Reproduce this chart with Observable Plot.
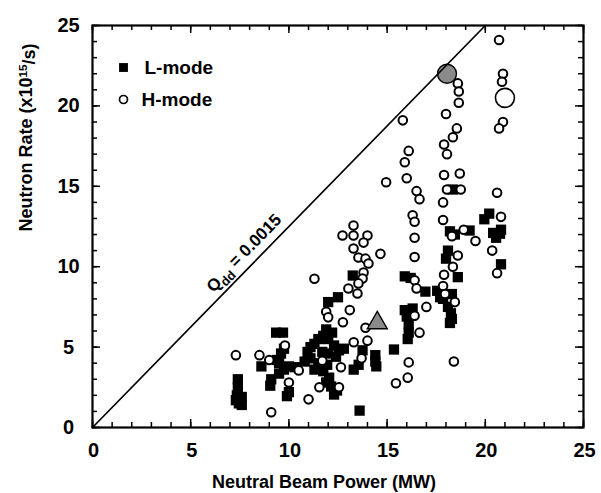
<!DOCTYPE html>
<html><head><meta charset="utf-8">
<script src="https://cdn.jsdelivr.net/npm/d3@7"></script>
<script src="https://cdn.jsdelivr.net/npm/@observablehq/plot@0.6"></script>
<style>html,body{margin:0;padding:0;background:#fff;overflow:hidden}</style>
</head><body><div id="chart"></div>
<script>
// ---- tick labels / axes ----
const xTicks = [0, 5, 10, 15, 20, 25];
const yTicks = [0, 5, 10, 15, 20, 25];
const minorTicks = [0,1,2,3,4,5,6,7,8,9,10,11,12,13,14,15,16,17,18,19,20,21,22,23,24,25];
const xTitle = "Neutral Beam Power (MW)";
const yTitle = "Neutron Rate (x1015/s)";
const legendL = ["L-mode"];
const legendH = ["H-mode"];

// ---- Qdd = 0.0015 reference line ----
const lineX = [0, 20];
const lineY = [0, 25];
const qddLabel = "Qdd = 0.0015";
const qddAtX = [8.2];

// ---- data: [beam power MW, neutron rate 1e15/s] ----
const lMode = [
  [7.4,3.0],[7.4,2.5],[7.35,2.0],[7.6,1.9],[7.45,1.5],[7.6,1.4],[7.3,1.7],
  [9.35,5.9],[9.7,5.9],[9.6,4.6],[9.75,4.9],[9.4,4.2],[8.6,3.8],[9.1,3.0],[9.05,2.6],
  [9.5,3.35],[9.75,3.6],[10.0,3.8],[10.3,3.75],[9.9,1.95],[10.0,2.2],[9.5,4.0],
  [10.95,4.7],[11.1,5.0],[11.3,5.2],[11.5,5.5],[11.75,5.7],[12.0,5.5],[12.2,5.9],[11.9,6.1],
  [12.3,5.1],[12.55,4.8],[12.8,4.9],[11.1,4.3],[11.5,4.0],[11.3,3.6],[11.95,3.9],[11.75,3.5],
  [12.05,3.1],[11.9,2.8],[12.15,2.55],[12.3,2.05],[12.45,2.3],[12.4,4.4],[12.0,4.6],[11.7,4.7],[10.8,4.1],
  [12.0,7.8],[12.5,8.1],[13.25,9.45],
  [13.75,4.8],[13.3,3.6],[13.55,3.9],[14.4,4.5],[14.45,3.8],[14.4,4.1],[15.35,4.85],[13.6,1.05],
  [15.9,9.4],[16.2,9.3],[16.95,8.45],[17.55,8.5],[17.7,8.1],[15.9,7.3],[16.3,7.4],[16.0,6.9],
  [16.1,6.4],[16.1,5.9],[16.05,5.5],
  [18.35,14.8],[18.2,12.2],[18.45,12.0],[19.2,12.25],[18.1,11.0],[18.0,10.5],[18.6,9.35],
  [17.85,8.0],[18.3,8.3],[18.1,7.5],[18.25,7.1],[18.3,6.75],[18.2,6.5],
  [19.95,12.95],[20.2,13.3],[20.4,12.1],[20.75,12.05],[20.55,11.8],[20.8,12.3],[20.8,10.15]
];
const hMode = [
  [7.3,4.5],[8.5,4.5],[9.0,4.2],[9.8,5.1],[10.0,2.8],[10.5,3.55],[9.1,0.95],[11.0,1.75],
  [11.7,4.15],[11.55,2.5],[12.55,2.5],[12.65,3.75],
  [11.3,9.25],[11.9,7.2],[12.0,6.85],[12.75,6.55],[13.1,7.3],[13.9,6.2],[13.3,5.3],[14.0,5.4],[13.7,4.3],
  [12.73,11.94],[13.29,12.56],[13.29,11.94],[14.0,11.94],[13.8,11.5],[14.66,10.8],[13.29,11.13],
  [13.54,10.57],[13.9,10.5],[14.05,10.2],[13.8,9.64],[13.75,9.27],[13.54,8.96],[13.03,8.64],[13.49,8.33],
  [14.95,15.25],[15.8,19.1],[16.1,17.2],[15.9,16.5],[16.0,15.5],[16.5,14.7],[16.65,14.2],[16.3,13.2],
  [16.4,12.8],[16.4,11.8],[16.4,10.6],[16.4,9.15],[16.5,8.65],[17.0,7.5],[16.4,6.95],[16.65,5.9],
  [15.45,2.75],[16.05,3.1],[16.1,4.05],
  [18.6,21.4],[18.65,20.9],[18.65,20.2],[18.0,19.5],[18.55,18.6],[18.35,18.05],[17.9,17.6],[18.05,17.0],
  [17.9,15.7],[18.7,15.8],[18.05,14.8],[18.75,14.8],[17.85,14.0],[17.85,12.9],[18.9,12.3],[19.5,11.6],
  [18.3,11.9],[18.6,10.7],[18.35,10.0],[17.9,9.5],[17.85,8.8],[17.95,8.3],[18.45,7.8],[18.4,4.1],
  [20.7,24.1],[20.9,22.0],[20.85,21.5],[20.9,19.0],[20.7,18.6],[20.6,14.6],[20.8,13.1],[20.35,11.0],[20.6,9.6]
];
const grayCircle = [[18.05, 22.0]];
const bigCircle = [[21.0, 20.5]];
const grayTriangle = [[14.5, 6.5]];

// ---- layout ----
const W = 601, H = 493, ML = 92, MR = 18, MT = 25, MB = 66;
const PW = W - ML - MR, PH = H - MT - MB;
const font = "'Liberation Sans', Arial, Helvetica, sans-serif";
const slopeAngle = -Math.atan2((lineY[1] / 25) * PH, (lineX[1] / 25) * PW) * 180 / Math.PI;
const qdd = qddAtX.map(x => ({x, y: x * lineY[1] / lineX[1]}));

const svg = Plot.plot({
  width: W, height: H,
  marginLeft: ML, marginRight: MR, marginTop: MT, marginBottom: MB,
  style: {fontFamily: font, background: "white", color: "black"},
  x: {domain: [0, 25], axis: null},
  y: {domain: [0, 25], axis: null},
  marks: [
    Plot.dot(lMode, {x: d => d[0], y: d => d[1], symbol: "square", r: 5.8, fill: "black"}),
    Plot.dot(hMode, {x: d => d[0], y: d => d[1], r: 4.3, fill: "white", stroke: "black", strokeWidth: 2}),
    Plot.dot(bigCircle, {x: d => d[0], y: d => d[1], r: 9.5, fill: "white", stroke: "black", strokeWidth: 1.6}),
    Plot.dot(grayCircle, {x: d => d[0], y: d => d[1], r: 9.5, fill: "#8a8a8a", stroke: "black", strokeWidth: 1.4}),
    Plot.dot(grayTriangle, {x: d => d[0], y: d => d[1], symbol: "triangle", r: 7.4, fill: "#8a8a8a", stroke: "black", strokeWidth: 1.4}),
    Plot.line(lineX.map((x, i) => [x, lineY[i]]), {x: d => d[0], y: d => d[1], stroke: "black", strokeWidth: 1.7}),
    Plot.text(qdd, {x: "x", y: "y", text: () => qddLabel, rotate: slopeAngle, dx: -9, dy: -9,
      fontSize: 17, fontWeight: "bold", textAnchor: "middle", lineAnchor: "middle", ariaLabel: "qdd"}),
    // inward ticks on all four sides
    Plot.tickX(minorTicks, {x: d => d, insetTop: PH - 5, strokeWidth: 1.5}),
    Plot.tickX(xTicks, {x: d => d, insetTop: PH - 8, strokeWidth: 1.5}),
    Plot.tickX(minorTicks, {x: d => d, insetBottom: PH - 5, strokeWidth: 1.5}),
    Plot.tickX(xTicks, {x: d => d, insetBottom: PH - 8, strokeWidth: 1.5}),
    Plot.tickY(minorTicks, {y: d => d, insetRight: PW - 5, strokeWidth: 1.5}),
    Plot.tickY(yTicks, {y: d => d, insetRight: PW - 8, strokeWidth: 1.5}),
    Plot.tickY(minorTicks, {y: d => d, insetLeft: PW - 5, strokeWidth: 1.5}),
    Plot.tickY(yTicks, {y: d => d, insetLeft: PW - 8, strokeWidth: 1.5}),
    Plot.frame({stroke: "black", strokeWidth: 2.2}),
    // tick labels
    Plot.text(xTicks, {x: d => d, text: d => String(d), frameAnchor: "bottom", dy: 23, dx: 1,
      fontSize: 20, fontWeight: "bold", lineAnchor: "middle", ariaLabel: "xlabels"}),
    Plot.text(yTicks, {y: d => d, text: d => String(d), frameAnchor: "left", dx: -24,
      fontSize: 20, fontWeight: "bold", textAnchor: "middle", lineAnchor: "middle", ariaLabel: "ylabels"}),
    // axis titles
    Plot.text([xTitle], {text: d => d, frameAnchor: "bottom", dx: -14, dy: 55,
      fontSize: 18, fontWeight: "bold", lineAnchor: "middle"}),
    Plot.text([yTitle], {text: d => d, frameAnchor: "left", dx: -66, dy: 5, rotate: -90,
      fontSize: 18, fontWeight: "bold", lineAnchor: "middle", ariaLabel: "ytitle"}),
    // legend
    Plot.dot(legendL, {frameAnchor: "top-left", dx: 31, dy: 42, symbol: "square", r: 5, fill: "black"}),
    Plot.text(legendL, {text: d => d, frameAnchor: "top-left", dx: 52, dy: 42, textAnchor: "start",
      lineAnchor: "middle", fontSize: 19, fontWeight: "bold"}),
    Plot.dot(legendH, {frameAnchor: "top-left", dx: 31, dy: 74, r: 4, fill: "white", stroke: "black", strokeWidth: 1.7}),
    Plot.text(legendH, {text: d => d, frameAnchor: "top-left", dx: 49, dy: 74, textAnchor: "start",
      lineAnchor: "middle", fontSize: 19, fontWeight: "bold"})
  ]
});

// subscript / superscript formatting
d3.select(svg).selectAll("text").each(function () {
  const t = d3.select(this);
  const s = this.textContent;
  if (s === qddLabel) {
    t.text(null);
    t.append("tspan").text("Q");
    t.append("tspan").attr("font-size", "75%").attr("dy", "0.35em").text("dd");
    t.append("tspan").attr("dy", "-0.35em").text(" = 0.0015");
  } else if (s === yTitle) {
    t.text(null);
    t.append("tspan").text("Neutron Rate (x10");
    t.append("tspan").attr("font-size", "65%").attr("dy", "-0.45em").text("15");
    t.append("tspan").attr("dy", "0.45em").text("/s)");
  }
});
d3.select(svg).selectAll("g[aria-label=xlabels] text, g[aria-label=ylabels] text").style("letter-spacing", "2px");

document.getElementById("chart").appendChild(svg);
</script>
</body></html>
